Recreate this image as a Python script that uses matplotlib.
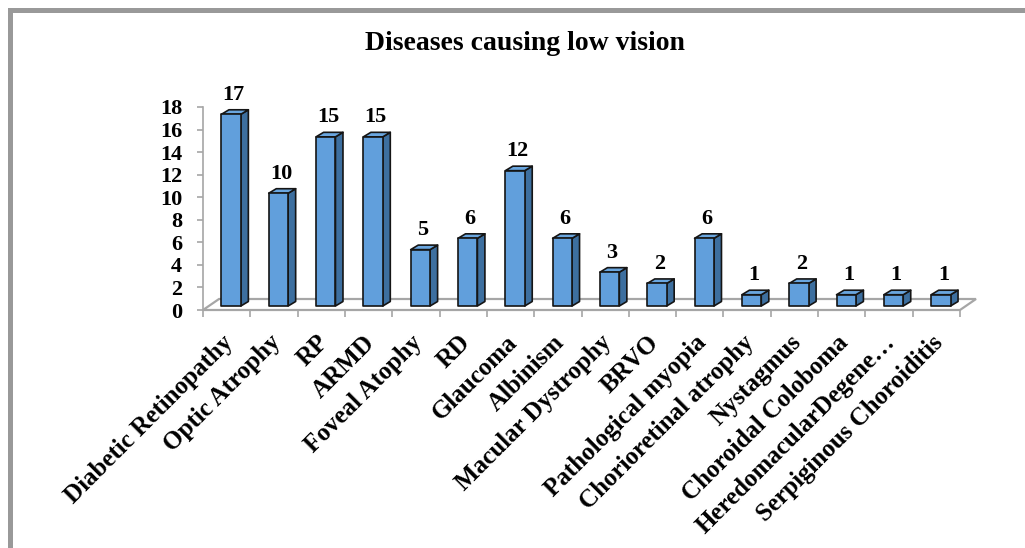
import matplotlib
matplotlib.use("Agg")
import matplotlib.pyplot as plt
from matplotlib.patches import Polygon, Rectangle

categories = [
    "Diabetic Retinopathy", "Optic Atrophy", "RP", "ARMD", "Foveal Atophy",
    "RD", "Glaucoma", "Albinism", "Macular Dystrophy", "BRVO",
    "Pathological myopia", "Chorioretinal atrophy", "Nystagmus",
    "Choroidal Coloboma", "HeredomacularDegene\u2026", "Serpiginous Choroiditis",
]
counts = [17, 10, 15, 15, 5, 6, 12, 6, 3, 2, 6, 1, 2, 1, 1, 1]
y_ticks = list(range(0, 19, 2))
title = "Diseases causing low vision"

FONT = "Liberation Serif"
FRONT = "#619fdc"
SIDE = "#3d6f9f"
TOP = "#6aa6df"
EDGE = "#151515"
GRID = "#a6a6a6"

W, H, DPI = 1025, 548, 100
fig = plt.figure(figsize=(W / DPI, H / DPI), dpi=DPI)

# plot area in pixels: x 203..960, y 107..310 (from top)
ax = fig.add_axes([203 / W, (H - 310) / H, (960 - 203) / W, (310 - 107) / H])
n = len(categories)
ax.set_xlim(0, n)
ax.set_ylim(0, 18)

# pixel -> data conversion
px_x = n / (960 - 203)
px_y = 18 / (310 - 107)

# floor of the 3-D plot
fdx, fdy = 16 * px_x, 11 * px_y
floor = Polygon([(0, 0), (n, 0), (n + fdx, fdy), (fdx, fdy)], closed=True,
                facecolor="white", edgecolor=GRID, lw=1.6, clip_on=False, zorder=1)
ax.add_patch(floor)

# bars with side and top faces
bar_left = 0.39
bar_w = 0.41
base = 4 * px_y
bdx, bdy = 7.5 * px_x, 4.5 * px_y
for i, v in enumerate(counts):
    x0 = i + bar_left
    x1 = x0 + bar_w
    y0 = base
    y1 = base + v
    ax.add_patch(Polygon([(x1, y0), (x1 + bdx, y0 + bdy), (x1 + bdx, y1 + bdy), (x1, y1)],
                         closed=True, facecolor=SIDE, edgecolor=EDGE, lw=1.2,
                         joinstyle="round", clip_on=False, zorder=3))
    ax.add_patch(Polygon([(x0, y1), (x1, y1), (x1 + bdx, y1 + bdy), (x0 + bdx, y1 + bdy)],
                         closed=True, facecolor=TOP, edgecolor=EDGE, lw=1.2,
                         joinstyle="round", clip_on=False, zorder=3))
    ax.add_patch(Rectangle((x0, y0), bar_w, v, facecolor=FRONT, edgecolor=EDGE,
                           lw=1.2, joinstyle="round", clip_on=False, zorder=4))
    ax.annotate(str(v), xy=(x0 + bar_w / 2 + bdx / 3, y1 + bdy), xytext=(0, 10),
                textcoords="offset pixels", ha="center", va="baseline",
                fontfamily=FONT, fontweight="bold", fontsize=16, zorder=5)

# axes styling
for s in ("top", "right", "bottom"):
    ax.spines[s].set_visible(False)
ax.spines["left"].set_color(GRID)
ax.spines["left"].set_linewidth(1.2)
ax.set_yticks(y_ticks)
ax.set_yticklabels([str(t) for t in y_ticks], fontfamily=FONT, fontweight="bold",
                   fontsize=16)
ax.tick_params(axis="y", colors=GRID, labelcolor="black", length=4, width=1.2, pad=11)
ax.set_xticks(range(n + 1))
ax.set_xticklabels([])
ax.tick_params(axis="x", colors=GRID, length=5, width=1.2)
ax.patch.set_visible(False)

# category labels, rotated
for i, name in enumerate(categories):
    ax.annotate(name, xy=(i + 0.5, 0), xytext=(3, -29), textcoords="offset pixels",
                rotation=45, rotation_mode="anchor", ha="right", va="center",
                fontfamily=FONT, fontweight="bold", fontsize=18)

fig.text(525 / W, 1 - 44 / H, title, ha="center", va="center",
         fontfamily=FONT, fontweight="bold", fontsize=20)

# outer frame (left and top edges)
fig.add_artist(plt.Line2D([9.5 / W, 9.5 / W], [0, 1 - 9.5 / H], color="#999999", lw=3.6,
                          transform=fig.transFigure, solid_capstyle="projecting"))
fig.add_artist(plt.Line2D([9.5 / W, 1], [1 - 9.5 / H, 1 - 9.5 / H], color="#999999", lw=3.6,
                          transform=fig.transFigure, solid_capstyle="projecting"))

fig.savefig("out.png", dpi=DPI)
